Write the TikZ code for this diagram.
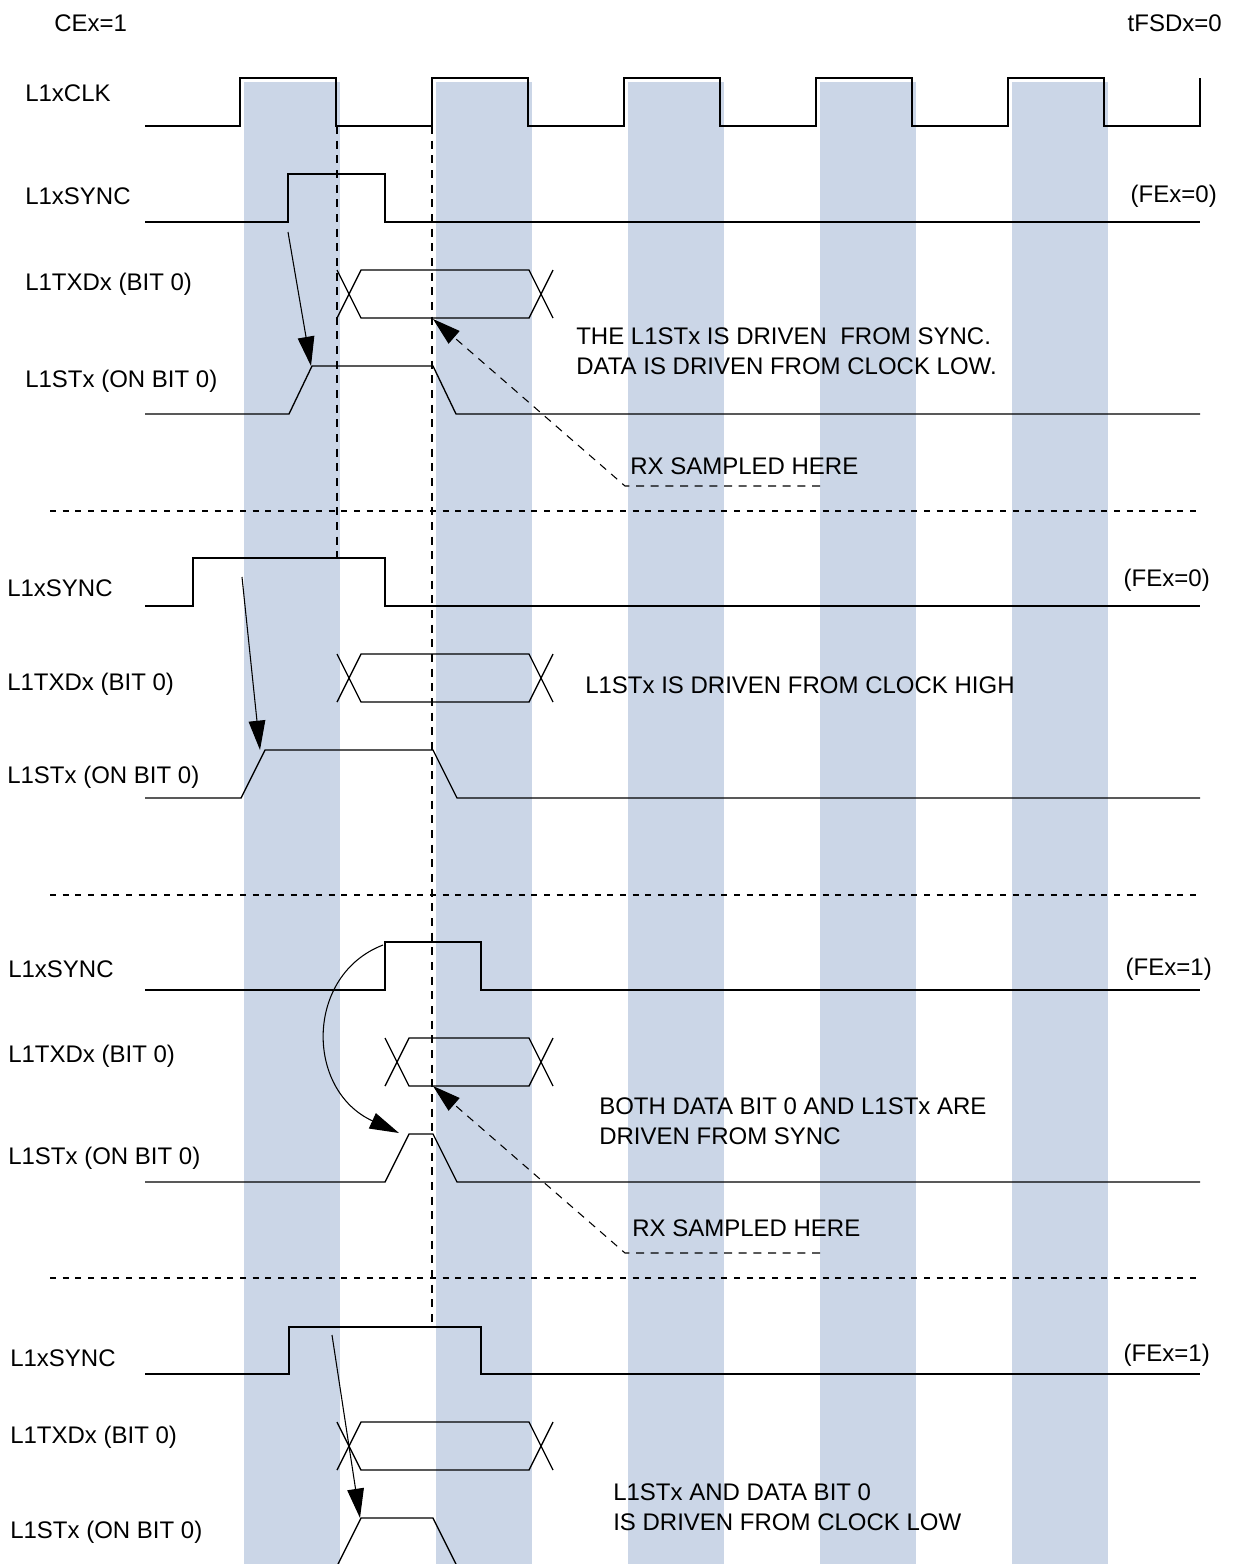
\documentclass[tikz,border=0pt]{standalone}
\usepackage{fontspec}
\setmainfont{Liberation Sans}
\usetikzlibrary{arrows.meta}
\definecolor{bandblue}{RGB}{203,214,231}
% data bus with crossings: x-left, x-right, y-top, y-bottom
\newcommand{\databus}[4]{%
  \draw[wave] (#1,#4) -- ({#1+24},#3) -- (#2,#3) -- ({#2+24},#4);
  \draw[wave] (#1,#3) -- ({#1+24},#4) -- (#2,#4) -- ({#2+24},#3);
}
\begin{document}
\begin{tikzpicture}[x=0.75pt, y=-0.75pt, font=\fontsize{18}{22.5}\selectfont]
	% Node styles
	\tikzstyle{signame} = [anchor=west, inner sep=0pt]
	\tikzstyle{note} = [anchor=west, inner sep=0pt, align=left]
	\tikzstyle{wave} = [line width=1pt, black]
	\tikzstyle{band} = [fill=bandblue, draw=none]
	\tikzstyle{guide} = [line width=1pt, dash pattern=on 6pt off 5pt]
	\tikzstyle{divider} = [line width=0.8pt, dash pattern=on 4.5pt off 5pt]
	\tikzstyle{drivearrow} = [line width=0.8pt, -{Triangle[length=22pt,width=12.5pt]}]
	\tikzstyle{samplearrow} = [line width=0.8pt, dash pattern=on 6pt off 5pt, -{Triangle[length=21pt,width=12.5pt]}]

	\useasboundingbox (0,0) rectangle (1233,1564);
	\clip (0,0) rectangle (1233,1564);

	% Clock high bands
	\fill[band] (244,82) rectangle (340,1564);
	\fill[band] (436,82) rectangle (532,1564);
	\fill[band] (628,82) rectangle (724,1564);
	\fill[band] (820,82) rectangle (916,1564);
	\fill[band] (1012,82) rectangle (1108,1564);

	% Header
	\node[signame] (cex) at (54,23) {CEx=1};
	\node[signame, anchor=east] (tfsd) at (1222,23) {tFSDx=0};

	% Clock
	\node[signame] (clk) at (25,93) {L1xCLK};
	\draw[wave] (145,126) -- (240,126) -- (240,78) -- (336,78) -- (336,126)
		-- (432,126) -- (432,78) -- (528,78) -- (528,126)
		-- (624,126) -- (624,78) -- (720,78) -- (720,126)
		-- (816,126) -- (816,78) -- (912,78) -- (912,126)
		-- (1008,126) -- (1008,78) -- (1104,78) -- (1104,126)
		-- (1200,126) -- (1200,78);

	% Sampling guides
	\draw[guide] (337,126) -- (337,558);
	\draw[guide] (432,126) -- (432,1327);

	% Case 1: FEx=0, sync in clock high
	\node[signame] (sync1) at (25,196) {L1xSYNC};
	\node[signame] (txd1) at (25,284) {L1TXDx (BIT 0)};
	\node[signame] (st1) at (25,381) {L1STx (ON BIT 0)};
	\node[signame, anchor=east] (fe1) at (1217,196) {(FEx=0)};
	\draw[wave] (145,222) -- (288,222) -- (288,174) -- (385,174) -- (385,222) -- (1200,222);
	\databus{337}{529}{270}{318}
	\draw[wave] (145,414) -- (289,414) -- (312,366) -- (433,366) -- (456,414) -- (1200,414);
	\node[note] (note1) at (576,351) {THE L1STx IS DRIVEN\ \ FROM SYNC.\\DATA IS DRIVEN FROM CLOCK LOW.};
	\node[note] (rx1) at (630,466) {RX SAMPLED HERE};
	\coordinate (a1from) at (288,232);
	\coordinate (a1to) at (311,366);
	\coordinate (rx1end) at (820,486);
	\coordinate (rx1bend) at (625,486);
	\coordinate (rx1tip) at (433,319);
	\draw[drivearrow] (a1from) -- (a1to);
	\draw[samplearrow] (rx1end) -- (rx1bend) -- (rx1tip);

	\draw[divider] (50,511) -- (1200,511);

	% Case 2: FEx=0, sync from clock low
	\node[signame] (sync2) at (7,588) {L1xSYNC};
	\node[signame] (txd2) at (7,684) {L1TXDx (BIT 0)};
	\node[signame] (st2) at (7,777) {L1STx (ON BIT 0)};
	\node[signame, anchor=east] (fe2) at (1210,580) {(FEx=0)};
	\draw[wave] (145,606) -- (193,606) -- (193,558) -- (385,558) -- (385,606) -- (1200,606);
	\databus{337}{529}{654}{702}
	\draw[wave] (145,798) -- (241,798) -- (265,750) -- (433,750) -- (457,798) -- (1200,798);
	\node[note] (note2) at (585,685) {L1STx IS DRIVEN FROM CLOCK HIGH};
	\coordinate (a2from) at (242,577);
	\coordinate (a2to) at (260,750);
	\draw[drivearrow] (a2from) -- (a2to);

	\draw[divider] (50,895) -- (1200,895);

	% Case 3: FEx=1, sync in clock low
	\node[signame] (sync3) at (8,969) {L1xSYNC};
	\node[signame] (txd3) at (8,1056) {L1TXDx (BIT 0)};
	\node[signame] (st3) at (8,1158) {L1STx (ON BIT 0)};
	\node[signame, anchor=east] (fe3) at (1212,969) {(FEx=1)};
	\draw[wave] (145,990) -- (385,990) -- (385,942) -- (481,942) -- (481,990) -- (1200,990);
	\databus{385}{529}{1038}{1086}
	\draw[wave] (145,1182) -- (385,1182) -- (409,1134) -- (433,1134) -- (457,1182) -- (1200,1182);
	\node[note] (note3) at (599,1121) {BOTH DATA BIT 0 AND L1STx ARE\\DRIVEN FROM SYNC};
	\node[note] (rx2) at (632,1228) {RX SAMPLED HERE};
	\coordinate (a3from) at (383,945);
	\coordinate (a3to) at (399,1133);
	\coordinate (rx2end) at (820,1253);
	\coordinate (rx2bend) at (625,1253);
	\coordinate (rx2tip) at (433,1086);
	\draw[drivearrow] (a3from) .. controls (305,975) and (305,1090) .. (a3to);
	\draw[samplearrow] (rx2end) -- (rx2bend) -- (rx2tip);

	\draw[divider] (50,1278) -- (1200,1278);

	% Case 4: FEx=1, sync in clock high
	\node[signame] (sync4) at (10,1358) {L1xSYNC};
	\node[signame] (txd4) at (10,1437) {L1TXDx (BIT 0)};
	\node[signame] (st4) at (10,1532) {L1STx (ON BIT 0)};
	\node[signame, anchor=east] (fe4) at (1210,1355) {(FEx=1)};
	\draw[wave] (145,1374) -- (289,1374) -- (289,1327) -- (481,1327) -- (481,1374) -- (1200,1374);
	\databus{337}{529}{1422}{1470}
	\draw[wave] (145,1566) -- (337,1566) -- (361,1518) -- (433,1518) -- (457,1566) -- (1200,1566);
	\node[note] (note4) at (613,1507) {L1STx AND DATA BIT 0\\IS DRIVEN FROM CLOCK LOW};
	\coordinate (a4from) at (332,1335);
	\coordinate (a4to) at (360,1518);
	\draw[drivearrow] (a4from) -- (a4to);
\end{tikzpicture}
\end{document}
